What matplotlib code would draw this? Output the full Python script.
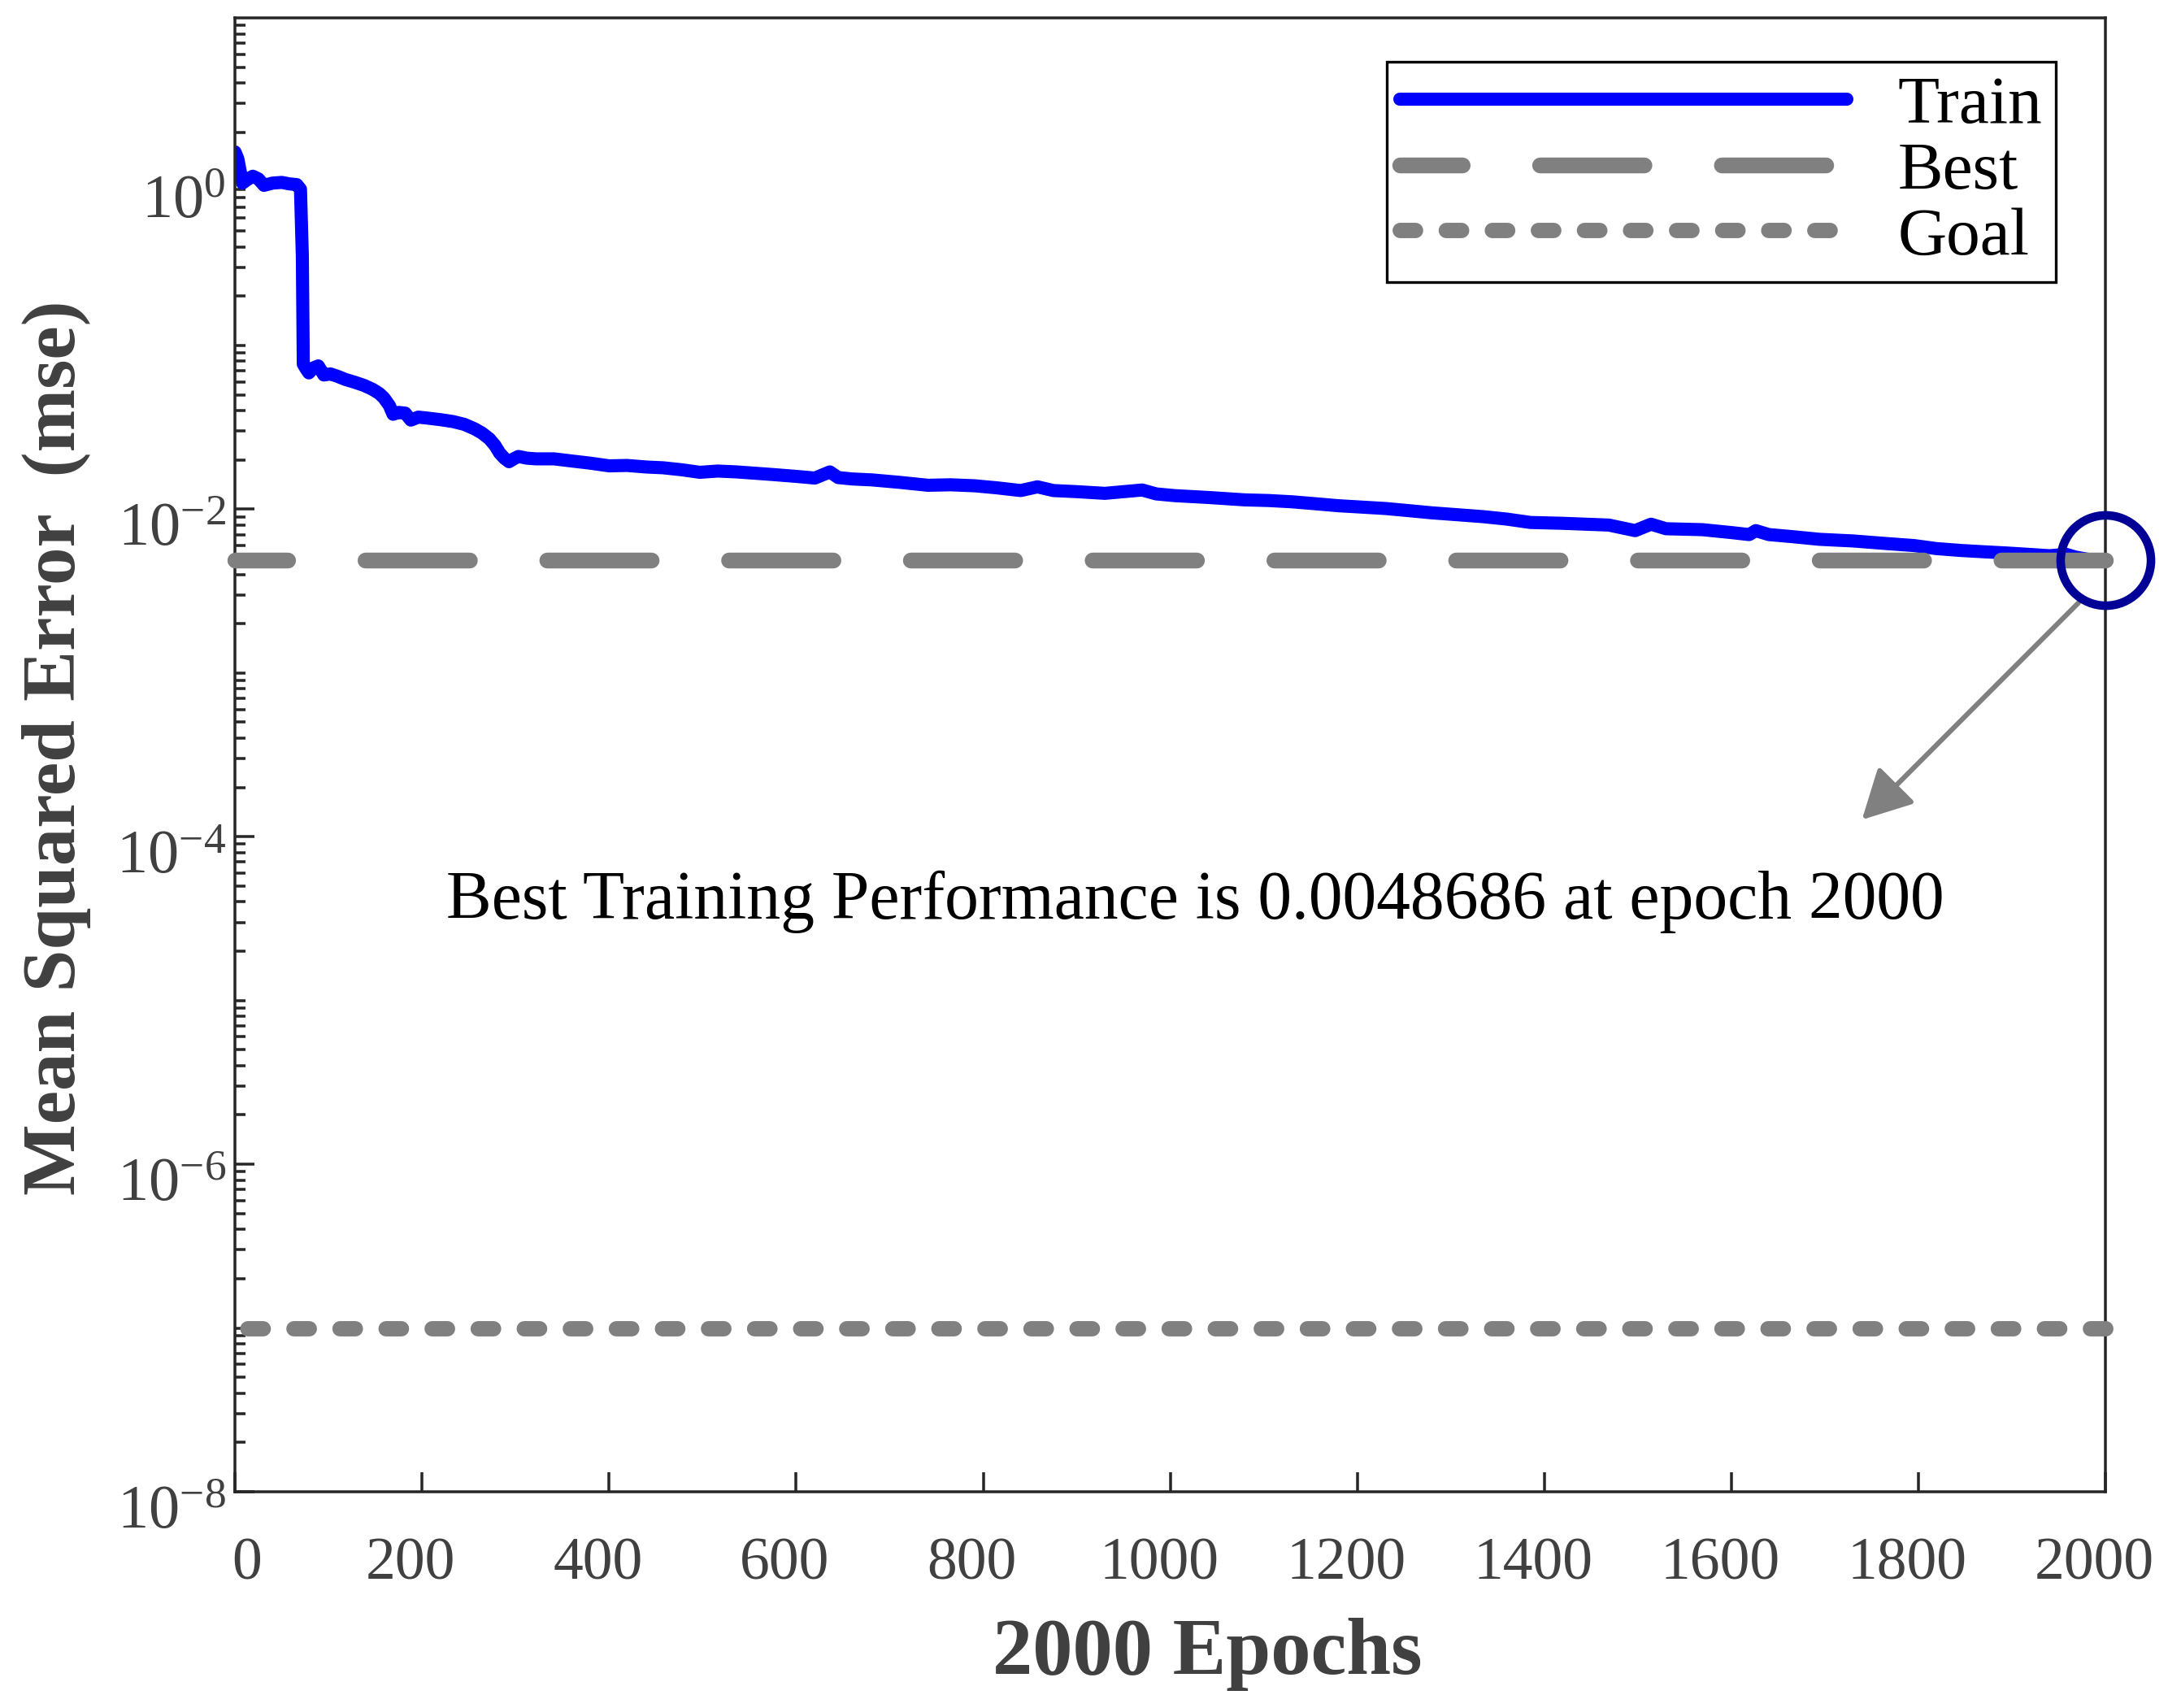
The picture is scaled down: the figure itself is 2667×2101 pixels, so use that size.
import matplotlib.pyplot as plt
from matplotlib.transforms import ScaledTranslation

plt.rcParams['font.family'] = ['Liberation Serif', 'DejaVu Serif']
plt.rcParams['mathtext.fontset'] = 'custom'
plt.rcParams['mathtext.rm'] = 'Liberation Serif'

# training record
epochs = [0, 3, 8, 12, 19, 25, 31, 40, 50, 58, 66, 70, 72, 73, 76, 79, 84, 89, 95,
          102, 109, 118, 128, 138, 147, 154, 159, 165, 169, 175, 182, 188, 196,
          206, 220, 233, 245, 256, 264, 272, 278, 283, 288, 293, 298, 303, 312,
          322, 341, 360, 380, 400, 419, 440, 458, 478, 497, 516, 536, 555, 574,
          598, 620, 636, 645, 660, 681, 710, 741, 765, 791, 815, 840, 858, 875,
          900, 930, 970, 985, 1005, 1040, 1080, 1105, 1130, 1155, 1180, 1205,
          1230, 1255, 1280, 1313, 1335, 1360, 1385, 1420, 1469, 1497, 1514, 1530,
          1569, 1600, 1619, 1626, 1640, 1665, 1694, 1730, 1769, 1795, 1819, 1845,
          1869, 1895, 1918, 1940, 1958, 1968, 1985, 2000]
mse_train = [1.52, 1.38, 0.98, 1.02, 1.08, 1.04, 0.95, 0.98, 0.99, 0.97, 0.96, 0.90,
             0.35, 0.077, 0.072, 0.068, 0.073, 0.075, 0.066, 0.067, 0.065, 0.062,
             0.0596, 0.057, 0.054, 0.051, 0.048, 0.043, 0.038, 0.039, 0.0386, 0.035,
             0.0365, 0.036, 0.0352, 0.0343, 0.0330, 0.031, 0.0292, 0.0269, 0.0245,
             0.022, 0.0205, 0.0195, 0.0203, 0.021, 0.0205, 0.0203, 0.0203, 0.0197,
             0.0191, 0.0184, 0.0185, 0.0181, 0.0179, 0.0174, 0.0168, 0.0171, 0.0169,
             0.0166, 0.0163, 0.0159, 0.0155, 0.0169, 0.0156, 0.0153, 0.0151, 0.0146,
             0.0140, 0.0141, 0.0139, 0.0135, 0.0130, 0.0137, 0.0130, 0.0128, 0.0125,
             0.0131, 0.0124, 0.0121, 0.0118, 0.0114, 0.0113, 0.0111, 0.0108, 0.0105,
             0.0103, 0.0101, 0.0098, 0.0095, 0.0092, 0.0090, 0.0087, 0.0083, 0.0082,
             0.0080, 0.0074, 0.0081, 0.0076, 0.0075, 0.0072, 0.0070, 0.0074, 0.0070,
             0.0068, 0.00655, 0.0064, 0.00615, 0.0060, 0.00575, 0.0056, 0.0055,
             0.0054, 0.0053, 0.0052, 0.0053, 0.0051, 0.0049, 0.0048686]
best_epoch = 2000
best_perf = 0.0048686
goal = 1e-7

x_ticks = [0, 200, 400, 600, 800, 1000, 1200, 1400, 1600, 1800, 2000]
x_labels = ['0', '200', '400', '600', '800', '1000', '1200', '1400', '1600', '1800', '2000']
y_major = [1e-8, 1e-6, 1e-4, 1e-2, 1e0]
y_labels = [r'$\mathregular{10^{-8}}$', r'$\mathregular{10^{-6}}$', r'$\mathregular{10^{-4}}$',
            r'$\mathregular{10^{-2}}$', r'$\mathregular{10^{0}}$']

GRAY = '#808080'
AXC = '#262626'
TXC = '#404040'

fig = plt.figure(figsize=(13.335, 10.505), dpi=200)
ax = fig.add_axes([0.1084, 0.1266, 0.8628, 0.8629])

ax.plot(epochs, mse_train, color='#0000ff', lw=5.8, solid_capstyle='round',
        solid_joinstyle='round', label='Train', zorder=2)
# horizontal lines drawn from right to left so the pattern starts at epoch 2000
ax.plot([best_epoch, 0], [best_perf, best_perf], color=GRAY, lw=7,
        linestyle=(0, (6.6, 4.9)), dash_capstyle='round', label='Best',
        clip_on=False, zorder=3)
ax.plot([best_epoch, 0], [goal, goal], color=GRAY, lw=6.8,
        linestyle=(0, (1.0, 2.0)), dash_capstyle='round', label='Goal',
        clip_on=False, zorder=3)
ax.plot([best_epoch], [best_perf], marker='o', ms=40, mfc='none', mec='#000096',
        mew=3.8, clip_on=False, zorder=4)

ax.annotate('', xy=(1739.5, 1.27e-4), xytext=(1971, 2.68e-3),
            arrowprops=dict(arrowstyle='-|>,head_length=0.93,head_width=0.49',
                            mutation_scale=20, color=GRAY, lw=2.2,
                            shrinkA=0, shrinkB=0))
ax.text(1026.5, 3.15e-5, 'Best Training Performance is 0.0048686 at epoch 2000',
        ha='center', va='baseline', fontsize=30.1, color='black')

ax.set_yscale('log')
ax.set_xlim(0, 2000)
ax.set_ylim(1e-8, 1e1)

ax.tick_params(axis='x', which='major', direction='in', length=8.5, width=1.26,
               pad=20, labelsize=26.5, labelcolor=TXC, color=AXC,
               top=False, bottom=True)
ax.tick_params(axis='y', which='major', direction='in', length=8.8, width=1.26,
               pad=4, labelsize=27.5, labelcolor=TXC, color=AXC, right=False)
ax.tick_params(axis='y', which='minor', direction='in', length=4.5, width=1.26,
               color=AXC, right=False)

ax.set_xticks(x_ticks)
ax.set_xticklabels(x_labels)
ax.set_yticks(y_major)
ax.set_yticklabels(y_labels)
minor = [m * 10.0 ** e for e in range(-8, 1) for m in range(2, 10)]
minor += [1e-7, 1e-5, 1e-3, 1e-1]
ax.set_yticks(minor, minor=True)
ax.set_yticklabels([], minor=True)

# the tick labels sit a little off their ticks in the original
for lab in ax.get_xticklabels():
    dx = 5.4 if lab.get_text() == '0' else -5.0
    lab.set_transform(lab.get_transform() + ScaledTranslation(dx / 72, 0, fig.dpi_scale_trans))
for lab in ax.get_yticklabels():
    lab.set_transform(lab.get_transform() + ScaledTranslation(0, -6.5 / 72, fig.dpi_scale_trans))

for sp in ax.spines.values():
    sp.set_color(AXC)
    sp.set_linewidth(1.26)

ax.set_xlabel('2000 Epochs', fontsize=35.5, fontweight='bold', color=TXC)
ax.xaxis.set_label_coords(0.52, -0.0855)
ax.set_ylabel('Mean Squared Error  (mse)', fontsize=33.5, fontweight='bold', color=TXC)
ax.yaxis.set_label_coords(-0.077, 0.505)

leg = ax.legend(loc='upper right', bbox_to_anchor=(0.9735, 0.97), borderaxespad=0,
                fontsize=30, handlelength=6.6, handletextpad=0.75, labelspacing=0.05,
                borderpad=0.2, fancybox=False, framealpha=1, edgecolor='black')
leg.get_frame().set_linewidth(1.2)
leg.get_lines()[1].set_linestyle((2.65, (6.6, 4.9)))

fig.savefig('out.png', dpi=200, facecolor='white')
